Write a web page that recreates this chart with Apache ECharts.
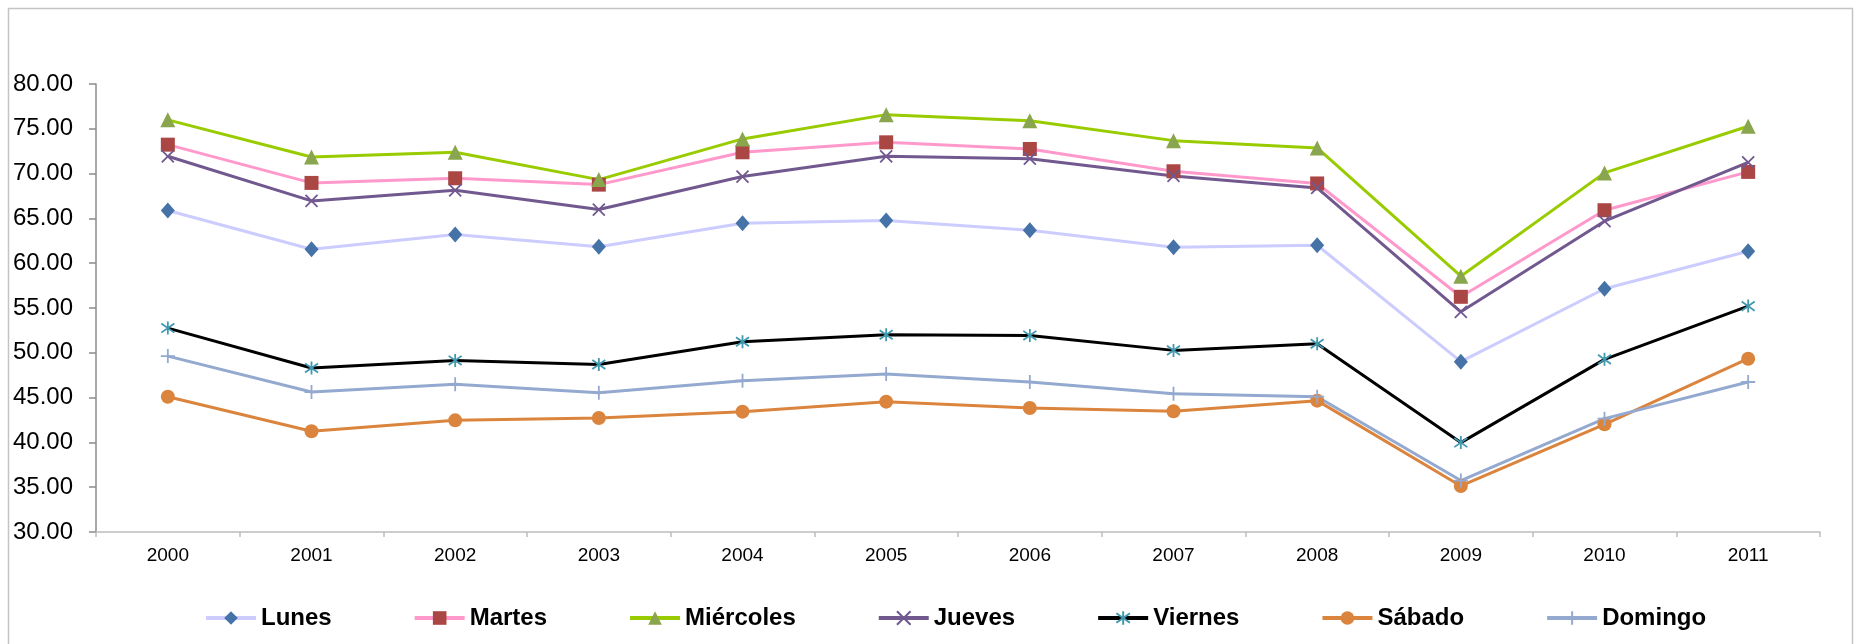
<!DOCTYPE html>
<html>
<head>
<meta charset="utf-8">
<script src="https://cdn.jsdelivr.net/npm/echarts@6/dist/echarts.min.js"></script>
<style>
  html, body { margin: 0; padding: 0; background: #fff; }
  #main { width: 1860px; height: 644px; }
</style>
</head>
<body>
<div id="main"></div>
<script>
const years = ['2000', '2001', '2002', '2003', '2004', '2005', '2006', '2007', '2008', '2009', '2010', '2011']

const lunes = [65.88, 61.56, 63.2, 61.83, 64.46, 64.76, 63.68, 61.78, 62.0, 49.01, 57.15, 61.34]
const martes = [73.23, 68.96, 69.48, 68.77, 72.38, 73.49, 72.75, 70.26, 68.9, 56.25, 65.91, 70.19]
const miercoles = [76.0, 71.86, 72.38, 69.33, 73.87, 76.58, 75.91, 73.68, 72.86, 58.55, 70.08, 75.28]
const jueves = [71.93, 66.95, 68.14, 65.99, 69.67, 71.93, 71.67, 69.74, 68.4, 54.58, 64.69, 71.26]
const viernes = [52.76, 48.3, 49.15, 48.7, 51.23, 52.01, 51.94, 50.27, 51.01, 39.98, 49.27, 55.21]
const sabado = [45.1, 41.24, 42.46, 42.72, 43.43, 44.55, 43.84, 43.47, 44.66, 35.14, 42.02, 49.34]
const domingo = [49.63, 45.62, 46.48, 45.55, 46.89, 47.63, 46.74, 45.44, 45.1, 35.74, 42.65, 46.74]

// marcadores de trazo (x, asterisco, cruz)
const xMark = 'path://M0,0L10,10M10,0L0,10'
const starMark = 'path://M5,0L5,10M0,1.5L10,8.5M10,1.5L0,8.5'
const plusMark = 'path://M5,0L5,10M0,5L10,5'

const makeSeries = (name, data, lineColor, markColor, symbol, size, stroke) => ({
  name: name,
  type: 'line',
  data: data,
  symbol: symbol,
  symbolSize: size,
  showAllSymbol: true,
  lineStyle: { color: lineColor, width: 3 },
  itemStyle: stroke
    ? { color: 'transparent', borderColor: markColor, borderWidth: 1.8 }
    : { color: markColor, borderWidth: 0 },
  emphasis: { disabled: true },
  z: 2
})

const option = {
  animation: false,
  textStyle: { fontFamily: 'Liberation Sans, Arial, sans-serif' },
  graphic: [
    {
      type: 'rect',
      shape: { x: 8.5, y: 8.5, width: 1844, height: 700 },
      style: { fill: 'none', stroke: '#c4c4c4', lineWidth: 1.5 },
      silent: true
    }
  ],
  grid: {
    left: 96,
    right: 40,
    top: 84,
    bottom: 112
  },
  legend: {
    left: 199,
    top: 601,
    itemWidth: 50,
    itemHeight: 17,
    itemGap: 81,
    lineStyle: { width: 4 },
    textStyle: { fontSize: 24, fontWeight: 'bold', color: '#000', lineHeight: 24 },
    data: ['Lunes', 'Martes', 'Miércoles', 'Jueves', 'Viernes', 'Sábado', 'Domingo']
  },
  xAxis: {
    type: 'category',
    data: years,
    boundaryGap: true,
    axisLine: { lineStyle: { color: '#bdbdbd', width: 1.5 } },
    axisTick: { show: true, length: 5, lineStyle: { color: '#bdbdbd', width: 1.5 } },
    axisLabel: { fontSize: 19, color: '#000', margin: 14 },
    splitLine: { show: false }
  },
  yAxis: {
    type: 'value',
    min: 30,
    max: 80,
    interval: 5,
    axisLine: { show: true, lineStyle: { color: '#8c8c8c', width: 1.5 } },
    axisTick: { show: true, length: 7, lineStyle: { color: '#8c8c8c', width: 1.5 } },
    axisLabel: {
      fontSize: 24,
      color: '#000',
      margin: 23,
      formatter: (v) => v.toFixed(2)
    },
    splitLine: { show: false }
  },
  series: [
    makeSeries('Lunes', lunes, '#ccccff', '#4572a7', 'diamond', [14, 16], false),
    makeSeries('Martes', martes, '#ff99cc', '#aa4643', 'rect', 14, false),
    makeSeries('Miércoles', miercoles, '#99cc00', '#89a54e', 'triangle', 15, false),
    makeSeries('Jueves', jueves, '#71588f', '#71588f', xMark, 12, true),
    makeSeries('Viernes', viernes, '#000000', '#4198af', starMark, 13, true),
    makeSeries('Sábado', sabado, '#db843d', '#db843d', 'circle', 14, false),
    makeSeries('Domingo', domingo, '#93a9cf', '#93a9cf', plusMark, 14, true)
  ]
}

const myChart = echarts.init(document.getElementById('main'))
myChart.setOption(option)
</script>
</body>
</html>
